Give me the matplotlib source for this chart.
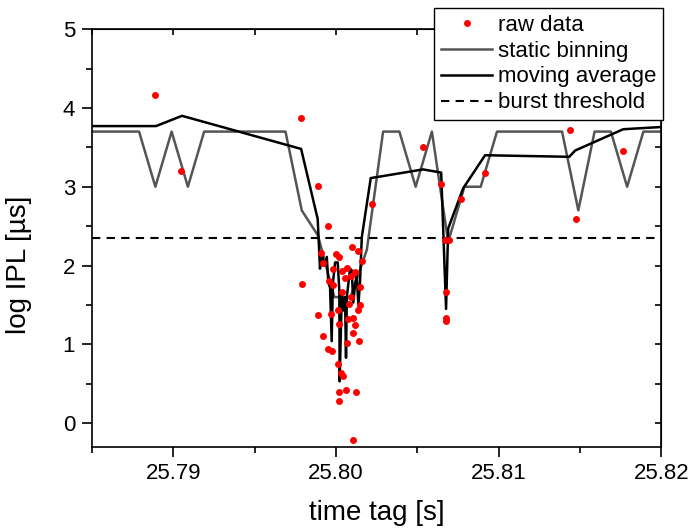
import matplotlib
matplotlib.use("Agg")
import matplotlib.pyplot as plt
from matplotlib.ticker import MultipleLocator, FormatStrFormatter

plt.rcParams['font.family'] = ['Liberation Sans', 'DejaVu Sans']

# raw inter-photon lag events (time tag [s], log IPL [us])
raw_t = [25.78888, 25.79047, 25.79784, 25.79890, 25.79790, 25.79950,
         25.79907, 25.80001, 25.80017, 25.80101, 25.80134, 25.80159,
         25.79921, 25.80070, 25.79984, 25.80036, 25.80120, 25.80093,
         25.80056, 25.79960, 25.79981, 25.80148, 25.80036, 25.80091,
         25.80083, 25.80148, 25.80015, 25.80138, 25.79892, 25.79970,
         25.80107, 25.80077, 25.80118, 25.80021, 25.80104, 25.79919,
         25.80144, 25.80067, 25.79950, 25.79974, 25.80015, 25.80032,
         25.80046, 25.80019, 25.80062, 25.80122, 25.80019, 25.80104,
         25.80220, 25.80536, 25.80644, 25.80671, 25.80696, 25.80677,
         25.80677, 25.80677, 25.80770, 25.80914, 25.81440, 25.81477,
         25.81766]
raw_v = [4.17, 3.20, 3.87, 3.01, 1.76, 2.50,
         2.16, 2.15, 2.11, 2.24, 2.18, 2.06,
         2.03, 1.97, 1.95, 1.93, 1.92, 1.87,
         1.84, 1.81, 1.75, 1.73, 1.66, 1.60,
         1.51, 1.50, 1.43, 1.43, 1.37, 1.38,
         1.33, 1.32, 1.24, 1.26, 1.14, 1.11,
         1.04, 1.02, 0.94, 0.92, 0.75, 0.64,
         0.60, 0.39, 0.42, 0.39, 0.28, -0.22,
         2.78, 3.50, 3.04, 2.33, 2.33, 1.66,
         1.34, 1.29, 2.85, 3.17, 3.72, 2.59,
         3.46]

# static binning, 1 ms bins
bin_t = [25.7849, 25.7859, 25.7869, 25.7879, 25.7889, 25.7899, 25.7909,
         25.7919, 25.7929, 25.7939, 25.7949, 25.7959, 25.7969, 25.7979,
         25.7989, 25.7999, 25.8009, 25.8019, 25.8029, 25.8039, 25.8049,
         25.8059, 25.8069, 25.8079, 25.8089, 25.8099, 25.8109, 25.8119,
         25.8129, 25.8139, 25.8149, 25.8159, 25.8169, 25.8179, 25.8189,
         25.8199, 25.8209]
bin_v = [3.7, 3.7, 3.7, 3.7, 3.0, 3.7, 3.0,
         3.7, 3.7, 3.7, 3.7, 3.7, 3.7, 2.7,
         2.38, 1.6, 1.6, 2.2, 3.7, 3.7, 3.0,
         3.7, 2.3, 3.0, 3.0, 3.7, 3.7, 3.7,
         3.7, 3.7, 2.7, 3.7, 3.7, 3.0, 3.7,
         3.7, 3.7]

# moving average
ma_t = [25.78400, 25.78894, 25.79054, 25.79786, 25.79888, 25.79902,
        25.79913, 25.79929, 25.79944, 25.79953, 25.79964, 25.79974,
        25.79981, 25.79995, 25.80011, 25.80021, 25.80023, 25.80036,
        25.80046, 25.80056, 25.80062, 25.80067, 25.80087, 25.80097,
        25.80107, 25.80118, 25.80128, 25.80138, 25.80148, 25.80159,
        25.80214, 25.80536, 25.80647, 25.80677, 25.80690, 25.80782,
        25.80917, 25.81434, 25.81471, 25.81766, 25.82100]
ma_v = [3.77, 3.77, 3.90, 3.48, 2.59, 1.96,
        2.15, 2.00, 2.11, 1.79, 1.72, 1.04,
        1.77, 2.04, 2.04, 1.68, 0.53, 1.64,
        1.43, 1.60, 0.83, 1.60, 1.96, 1.94,
        1.53, 1.77, 1.87, 1.49, 1.79, 2.36,
        3.11, 3.22, 3.18, 1.45, 2.47, 2.98,
        3.40, 3.38, 3.46, 3.73, 3.77]

threshold = 2.35

fig = plt.figure(figsize=(6.91, 5.30), dpi=100)
ax = fig.add_axes([0.133, 0.157, 0.824, 0.788])

ax.plot(raw_t, raw_v, 'o', color='red', ms=5, mec='none', label='raw data', zorder=4)
ax.plot(bin_t, bin_v, '-', color='#555555', lw=1.8, label='static binning', zorder=2)
ax.plot(ma_t, ma_v, '-', color='black', lw=1.8, label='moving average', zorder=3)
ax.axhline(threshold, color='black', lw=1.5, dashes=(4, 3), label='burst threshold', zorder=3)

ax.set_xlim(25.785, 25.82)
ax.set_ylim(-0.3, 5)
ax.xaxis.set_major_locator(MultipleLocator(0.01))
ax.xaxis.set_minor_locator(MultipleLocator(0.005))
ax.xaxis.set_major_formatter(FormatStrFormatter('%.2f'))
ax.yaxis.set_major_locator(MultipleLocator(1))
ax.yaxis.set_minor_locator(MultipleLocator(0.5))

for s in ax.spines.values():
    s.set_linewidth(1.2)

ax.tick_params(which='both', direction='out', width=1.2, labelsize=16,
               top=False, right=False)
ax.tick_params(which='major', length=7, pad=5)
ax.tick_params(which='minor', length=4)

# inward ticks on top and right
top = ax.secondary_xaxis('top')
top.xaxis.set_major_locator(MultipleLocator(0.01))
top.xaxis.set_minor_locator(MultipleLocator(0.005))
top.tick_params(which='both', direction='in', length=4, width=1.2, labeltop=False)
right = ax.secondary_yaxis('right')
right.yaxis.set_major_locator(MultipleLocator(1))
right.yaxis.set_minor_locator(MultipleLocator(0.5))
right.tick_params(which='both', direction='in', length=4, width=1.2, labelright=False)

ax.set_xlabel('time tag [s]', fontsize=20, labelpad=11)
ax.set_ylabel('log IPL [µs]', fontsize=20)
ax.yaxis.set_label_coords(-0.105, 0.435)

leg = ax.legend(loc='upper right', bbox_to_anchor=(0.959, 0.985),
                bbox_transform=fig.transFigure, borderaxespad=0,
                fontsize=16, numpoints=1, handlelength=2.3, handletextpad=0.25,
                borderpad=0.3, labelspacing=0.22, fancybox=False,
                framealpha=1, edgecolor='black')
leg.get_frame().set_linewidth(1.0)
leg.set_zorder(10)

fig.savefig('out.png', dpi=100)
